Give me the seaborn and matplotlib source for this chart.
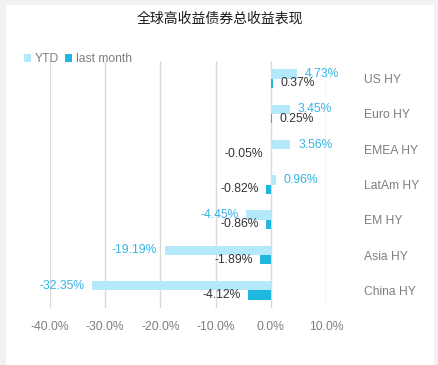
import numpy as np
import pandas as pd
import matplotlib
matplotlib.use("Agg")
import matplotlib.pyplot as plt
from matplotlib.patches import Rectangle
import seaborn as sns

categories = ["US HY", "Euro HY", "EMEA HY", "LatAm HY", "EM HY", "Asia HY", "China HY"]
ytd = [4.73, 3.45, 3.56, 0.96, -4.45, -19.19, -32.35]
last_month = [0.37, 0.25, -0.05, -0.82, -0.86, -1.89, -4.12]
series_names = ["YTD", "last month"]
x_ticks = [-40, -30, -20, -10, 0, 10]
title = "全球高收益债券总收益表现"

df = pd.DataFrame({
    "category": categories * 2,
    "value": ytd + last_month,
    "series": [series_names[0]] * len(categories) + [series_names[1]] * len(categories),
})

sns.set_theme(style="white")
plt.rcParams["font.family"] = ["Liberation Sans", "Noto Sans CJK SC", "DejaVu Sans"]

bar_colors = {"YTD": "#b4e9fb", "last month": "#1fb6e0"}
label_colors = {"YTD": "#34b4e4", "last month": "#333333"}
gray = "#7f7f7f"

fig = plt.figure(figsize=(4.39, 3.65), dpi=100)
fig.patch.set_facecolor("#f2f2f2")
fig.patches.append(Rectangle((6 / 439, 0), 428 / 439, 360 / 365, transform=fig.transFigure,
                             facecolor="white", edgecolor="none", zorder=-10))

ax = fig.add_axes([50 / 439, 57 / 365, 276 / 439, 247 / 365])
ax.set_zorder(5)
ax.set_facecolor("none")
sns.barplot(data=df, y="category", x="value", hue="series", orient="h",
            palette=bar_colors, width=0.53, ax=ax, saturation=1, order=categories,
            hue_order=series_names, linewidth=0, edgecolor="none")

ax.set_xlim(-40, 10)
ax.set_ylim(len(categories) - 0.5, -0.5)
ax.set_xticks(x_ticks)
ax.set_xticklabels([f"{t:.1f}%" for t in x_ticks])
ax.xaxis.grid(True, color="#d9d9d9", linewidth=1)
ax.yaxis.grid(False)
ax.set_axisbelow(True)
for s in ax.spines.values():
    s.set_visible(False)
ax.set_xlabel("")
ax.set_ylabel("")
ax.tick_params(axis="x", length=0, pad=9, labelsize=8.7, labelcolor=gray)
ax.yaxis.tick_right()
ax.tick_params(axis="y", length=0, pad=27, labelsize=8.7, labelcolor=gray)
for lbl in ax.get_yticklabels():
    lbl.set_ha("left")

# value labels
for cont, name in zip(ax.containers, series_names):
    for bar, v in zip(cont, df[df.series == name]["value"]):
        yc = bar.get_y() + bar.get_height() / 2
        off = 5.5 if v >= 0 else -5.5
        ax.annotate(f"{v:.2f}%", (v, yc), xytext=(off, 0), textcoords="offset points",
                    ha="left" if v >= 0 else "right", va="center", fontsize=8.7,
                    color=label_colors[name], clip_on=False)

handles, labels = ax.get_legend_handles_labels()
ax.legend(handles, labels, loc="center left", bbox_to_anchor=(24 / 439, 1 - 59 / 365),
          bbox_transform=fig.transFigure, ncol=2, frameon=False, fontsize=8.7,
          labelcolor=gray, handlelength=0.6, handleheight=0.6, handletextpad=0.3,
          columnspacing=0.5, borderpad=0, borderaxespad=0)

fig.text(220 / 439, 1 - 19 / 365, title, ha="center", va="center", fontsize=10,
         color="#1a1a1a", family=["Noto Sans CJK SC", "DejaVu Sans"])

fig.savefig("out.png", dpi=100, facecolor=fig.get_facecolor())
